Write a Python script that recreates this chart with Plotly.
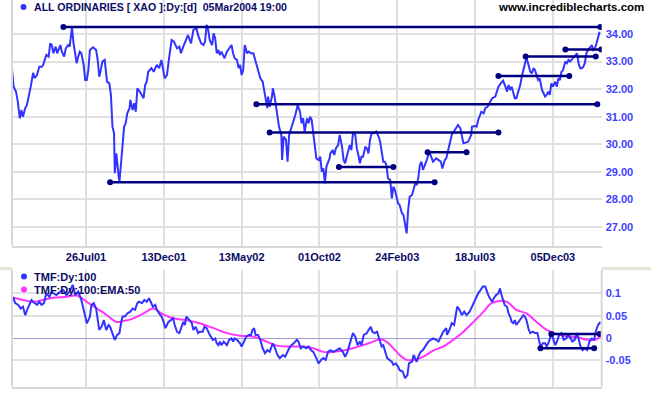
import plotly.graph_objects as go

# ---------------- data (x = trading-bar index, ticks every 100 bars) ----------------
tick_bars = [100, 200, 300, 400, 500, 600, 700]
tick_labels = ["26Jul01", "13Dec01", "13May02", "01Oct02", "24Feb03", "18Jul03", "05Dec03"]

price_ticks = [27, 28, 29, 30, 31, 32, 33, 34]
price_tick_text = ["27.00", "28.00", "29.00", "30.00", "31.00", "32.00", "33.00", "34.00"]
tmf_ticks = [-0.05, 0, 0.05, 0.1]
tmf_tick_text = ["-0.05", "0", "0.05", "0.1"]

price_bar = [5, 7, 10, 12, 15, 17, 19, 22, 24, 26, 29, 32, 34, 37, 40, 43, 45, 49, 52, 54, 56, 58, 61, 63, 67, 69,
             72, 74, 77, 79, 82, 84, 86, 88, 90, 92, 94, 97, 99, 101, 103, 105, 109, 113, 115, 117, 119, 121, 124,
             127, 130, 132, 134, 136, 137, 139, 142, 143, 145, 147, 149, 151, 153, 156, 157, 160, 162, 164, 166,
             169, 172, 174, 176, 178, 180, 184, 187, 191, 194, 197, 201, 204, 207, 210, 213, 217, 220, 222, 225,
             228, 231, 235, 238, 242, 244, 248, 251, 253, 255, 257, 259, 262, 264, 266, 268, 270, 272, 274, 278,
             281, 284, 287, 289, 291, 294, 296, 298, 300, 302, 304, 307, 309, 312, 315, 318, 321, 324, 327, 329,
             331, 333, 334, 336, 339, 340, 342, 344, 346, 348, 351, 352, 354, 357, 359, 361, 363, 366, 369, 372,
             375, 377, 379, 381, 384, 386, 388, 390, 392, 394, 396, 399, 401, 403, 405, 407, 409, 413, 414, 417,
             419, 421, 424, 426, 429, 431, 433, 435, 437, 439, 441, 443, 446, 448, 450, 452, 454, 456, 459, 461,
             463, 465, 467, 470, 473, 476, 478, 480, 482, 484, 486, 488, 491, 493, 495, 497, 499, 501, 503, 506,
             508, 510, 512, 514, 516, 519, 521, 523, 525, 527, 529, 531, 533, 536, 538, 541, 544, 546, 550, 553,
             556, 558, 561, 563, 567, 570, 574, 578, 581, 583, 585, 588, 591, 595, 596, 600, 602, 604, 606, 608,
             611, 613, 616, 619, 622, 626, 628, 630, 633, 636, 639, 641, 643, 645, 647, 649, 651, 653, 655, 658,
             660, 662, 664, 666, 668, 671, 673, 675, 677, 679, 681, 683, 686, 688, 690, 692, 694, 696, 698, 700,
             703, 705, 707, 709, 711, 713, 716, 718, 720, 722, 724, 726, 728, 731, 733, 735, 737, 739, 741, 743,
             745, 748, 750, 752, 754, 756, 758, 760]
price_val = [32.69, 32.09, 31.91, 31.61, 30.94, 31.24, 31.00, 31.32, 31.42, 31.68, 32.09, 32.59, 32.40, 32.51, 32.81,
             32.81, 32.88, 33.24, 33.18, 33.66, 33.60, 33.30, 33.54, 33.30, 33.60, 33.36, 33.18, 33.48, 33.60, 33.54,
             34.24, 33.66, 33.30, 32.94, 33.18, 33.36, 33.30, 32.88, 32.33, 32.33, 32.69, 33.42, 33.52, 33.42, 33.06,
             32.45, 32.69, 33.00, 33.06, 32.27, 32.21, 31.79, 30.64, 30.40, 28.95, 29.67, 28.82, 28.64, 29.31, 29.91,
             30.64, 30.76, 31.12, 31.31, 31.61, 31.24, 31.49, 31.18, 32.03, 31.91, 31.79, 31.67, 32.15, 32.27, 32.63,
             32.76, 32.63, 32.88, 32.76, 33.06, 32.39, 32.51, 33.18, 33.78, 33.72, 33.48, 33.54, 33.30, 33.54, 33.78,
             33.96, 33.66, 34.15, 34.21, 33.96, 33.66, 33.60, 33.72, 34.33, 34.15, 33.78, 33.60, 34.03, 33.84, 33.30,
             33.42, 33.24, 33.36, 33.12, 33.36, 33.48, 33.60, 33.30, 33.12, 33.06, 32.76, 32.88, 32.51, 32.69, 33.60,
             33.30, 33.36, 33.30, 33.30, 33.00, 32.69, 32.39, 32.27, 31.91, 31.54, 31.31, 31.73, 31.36, 31.73, 32.03,
             31.79, 31.36, 31.00, 30.64, 30.34, 29.43, 30.28, 30.16, 29.37, 30.34, 30.52, 30.76, 31.06, 31.42, 31.18,
             30.76, 30.94, 30.46, 30.94, 30.76, 31.00, 30.88, 30.40, 30.04, 29.49, 29.43, 29.55, 29.01, 29.13, 28.58,
             29.19, 29.49, 29.67, 29.79, 29.61, 29.85, 29.97, 30.34, 29.91, 29.43, 29.31, 29.55, 29.73, 29.97, 29.79,
             30.40, 30.34, 29.85, 29.61, 29.31, 29.55, 29.55, 29.91, 29.85, 29.67, 30.16, 30.40, 30.40, 30.46, 30.28,
             30.09, 29.67, 29.37, 29.37, 29.25, 28.77, 28.70, 28.04, 28.46, 28.34, 28.10, 27.86, 27.80, 27.50, 27.43,
             27.07, 26.77, 27.62, 28.10, 28.16, 28.40, 28.58, 28.52, 28.77, 29.25, 29.37, 29.07, 29.25, 29.43, 29.73,
             29.49, 29.37, 29.49, 29.43, 29.37, 29.12, 29.43, 29.49, 30.04, 30.34, 30.52, 30.70, 30.58, 30.27, 30.04,
             30.06, 30.09, 30.34, 30.64, 30.66, 30.64, 30.88, 31.00, 31.18, 31.12, 31.31, 31.36, 31.54, 31.67, 31.73,
             31.91, 32.09, 32.21, 32.31, 32.09, 31.91, 32.15, 31.97, 32.09, 31.85, 31.67, 31.67, 31.85, 32.15, 32.45,
             32.69, 32.88, 33.15, 32.94, 32.63, 32.57, 32.76, 32.69, 32.51, 32.33, 32.39, 31.97, 31.85, 31.73, 31.79,
             31.91, 31.79, 32.21, 32.09, 32.27, 32.09, 32.39, 32.33, 32.63, 32.69, 33.00, 32.94, 33.06, 33.00, 33.06,
             33.12, 33.18, 33.30, 32.94, 32.76, 32.76, 32.81, 32.94, 33.30, 33.42, 33.54, 33.60, 33.42, 33.48, 33.66,
             33.90, 34.08]

tmf_bar = [6, 9, 13, 16, 19, 22, 25, 28, 30, 32, 37, 40, 43, 46, 49, 53, 56, 58, 62, 67, 71, 75, 79, 83, 86, 90, 94,
           97, 99, 101, 103, 105, 107, 110, 113, 115, 117, 120, 123, 126, 129, 131, 134, 137, 140, 143, 145, 147, 150,
           153, 157, 160, 163, 166, 168, 172, 175, 178, 181, 184, 186, 189, 191, 194, 197, 199, 202, 204, 206, 209,
           212, 214, 217, 220, 223, 225, 227, 229, 233, 236, 238, 241, 244, 246, 250, 252, 255, 259, 263, 266, 268,
           270, 272, 274, 277, 281, 284, 287, 289, 291, 294, 298, 300, 302, 306, 309, 312, 314, 316, 318, 321, 324,
           327, 330, 333, 336, 340, 343, 346, 349, 353, 356, 359, 361, 364, 367, 371, 373, 376, 379, 383, 386, 389,
           392, 396, 399, 402, 405, 408, 411, 414, 418, 422, 426, 430, 433, 436, 439, 441, 443, 446, 449, 452, 454,
           457, 461, 463, 466, 468, 471, 474, 477, 480, 482, 484, 487, 490, 493, 495, 498, 501, 503, 507, 510, 513,
           515, 519, 521, 525, 527, 530, 533, 537, 540, 543, 546, 550, 553, 556, 559, 563, 564, 567, 570, 573, 575,
           577, 580, 583, 586, 589, 593, 596, 598, 601, 604, 607, 610, 613, 615, 617, 619, 622, 624, 627, 630, 632,
           634, 636, 638, 641, 643, 645, 647, 649, 651, 653, 656, 660, 662, 664, 666, 669, 671, 674, 677, 680, 682,
           684, 687, 690, 692, 695, 698, 700, 703, 706, 708, 711, 714, 717, 720, 723, 725, 728, 731, 733, 735, 738,
           741, 744, 747, 750, 753, 755, 758, 761]
tmf_val = [0.092, 0.078, 0.074, 0.066, 0.070, 0.051, 0.066, 0.078, 0.085, 0.081, 0.074, 0.081, 0.074, 0.078, 0.100,
           0.092, 0.104, 0.100, 0.096, 0.104, 0.107, 0.096, 0.104, 0.119, 0.096, 0.104, 0.085, 0.063, 0.044, 0.033,
           0.040, 0.048, 0.074, 0.078, 0.066, 0.040, 0.018, 0.025, 0.040, 0.018, 0.029, 0.025, 0.011, -0.004, 0.007,
           0.011, 0.033, 0.048, 0.048, 0.055, 0.059, 0.066, 0.063, 0.078, 0.081, 0.078, 0.085, 0.081, 0.089, 0.078,
           0.070, 0.074, 0.063, 0.055, 0.048, 0.040, 0.022, 0.029, 0.036, 0.040, 0.044, 0.029, 0.014, 0.011, 0.025,
           0.036, 0.029, 0.048, 0.040, 0.033, 0.018, 0.025, 0.011, 0.014, 0.014, 0.025, 0.022, 0.007, -0.004, -0.001,
           -0.012, -0.016, -0.008, -0.016, -0.008, -0.016, -0.004, -0.001, -0.008, -0.001, -0.004, -0.012, -0.019,
           -0.012, 0.003, 0.007, 0.007, 0.018, 0.022, 0.007, 0.007, -0.004, -0.023, -0.034, -0.027, -0.031, -0.012,
           -0.023, -0.038, -0.045, -0.038, -0.042, -0.031, -0.023, -0.016, -0.012, -0.004, -0.008, -0.023, -0.019,
           -0.023, -0.019, -0.027, -0.031, -0.045, -0.057, -0.049, -0.045, -0.049, -0.031, -0.027, -0.031, -0.027,
           -0.023, -0.031, -0.042, -0.031, -0.012, -0.004, 0.011, 0.003, -0.016, -0.008, -0.016, 0.007, 0.011, 0.018,
           0.025, 0.014, 0.011, 0.014, -0.004, -0.019, -0.016, -0.027, -0.045, -0.049, -0.053, -0.060, -0.057, -0.064,
           -0.072, -0.075, -0.090, -0.083, -0.057, -0.053, -0.038, -0.053, -0.042, -0.031, -0.027, -0.016, -0.008,
           -0.004, -0.001, -0.004, -0.008, 0.003, 0.014, 0.022, 0.007, 0.018, 0.033, 0.029, 0.048, 0.070, 0.063,
           0.051, 0.059, 0.051, 0.059, 0.070, 0.081, 0.089, 0.100, 0.107, 0.115, 0.115, 0.104, 0.096, 0.089, 0.081,
           0.089, 0.096, 0.100, 0.111, 0.096, 0.085, 0.074, 0.070, 0.055, 0.048, 0.036, 0.033, 0.040, 0.029, 0.036,
           0.044, 0.051, 0.048, 0.040, 0.018, 0.011, 0.014, 0.011, 0.011, -0.008, -0.019, -0.012, -0.012, -0.019,
           -0.008, 0.011, -0.001, -0.016, -0.004, 0.007, 0.011, -0.004, -0.001, 0.007, -0.001, -0.008, -0.004, 0.011,
           -0.001, -0.016, -0.027, -0.023, -0.027, -0.008, -0.001, -0.004, 0.014, 0.029, 0.036]

ema_bar = [7, 19, 32, 45, 58, 75, 88, 101, 114, 127, 139, 148, 161, 174, 186, 199, 212, 229, 246, 264, 281, 298, 315,
           332, 345, 362, 379, 392, 405, 418, 431, 443, 456, 469, 478, 486, 495, 503, 512, 521, 533, 546, 559, 572,
           585, 598, 611, 621, 632, 641, 653, 666, 679, 692, 705, 718, 731, 744, 754, 761]
ema_val = [0.090, 0.085, 0.081, 0.085, 0.090, 0.092, 0.095, 0.081, 0.066, 0.051, 0.036, 0.038, 0.044, 0.055, 0.066,
           0.053, 0.044, 0.040, 0.033, 0.022, 0.011, 0.005, 0.003, -0.008, -0.017, -0.019, -0.019, -0.023, -0.031,
           -0.031, -0.028, -0.023, -0.016, -0.008, -0.003, -0.008, -0.023, -0.038, -0.049, -0.049, -0.042, -0.028,
           -0.019, -0.004, 0.014, 0.036, 0.059, 0.078, 0.083, 0.081, 0.063, 0.055, 0.036, 0.018, 0.009, 0.004, 0.002,
           -0.004, -0.004, 0.003]

# horizontal trend lines on price panel
trend_start = [71, 131, 319, 336, 425, 539, 630, 665, 716]
trend_end = [761, 548, 757, 630, 495, 589, 721, 755, 762]
trend_level = [34.25, 28.62, 31.45, 30.43, 29.18, 29.71, 32.48, 33.18, 33.44]

# horizontal trend lines on TMF panel
tmf_trend_start = [698, 684]
tmf_trend_end = [760, 753]
tmf_trend_level = [0.009, -0.023]

# ---------------- styling ----------------
W, H = 651, 395
BLUE = "#3333ff"
NAVY = "#000080"
TEXT_NAVY = "#0b0b66"
MAGENTA = "#ff33ff"
GRID = "#e0e0e0"
FONT = "Liberation Sans"


def px(x):
    return x / W


def py(y):
    return 1 - y / H


fig = go.Figure()

fig.add_trace(go.Scatter(x=price_bar, y=price_val, mode="lines",
                         line=dict(color=BLUE, width=2), xaxis="x", yaxis="y", showlegend=False))
for s, e, lv in zip(trend_start, trend_end, trend_level):
    fig.add_trace(go.Scatter(x=[s, e], y=[lv, lv], mode="lines+markers",
                             line=dict(color=NAVY, width=2.5), marker=dict(color=NAVY, size=6),
                             xaxis="x", yaxis="y", showlegend=False))

fig.add_trace(go.Scatter(x=ema_bar, y=ema_val, mode="lines", line=dict(color=MAGENTA, width=2, shape="spline"),
                         xaxis="x2", yaxis="y2", showlegend=False))
fig.add_trace(go.Scatter(x=tmf_bar, y=tmf_val, mode="lines", line=dict(color=BLUE, width=2),
                         xaxis="x2", yaxis="y2", showlegend=False))
for s, e, lv in zip(tmf_trend_start, tmf_trend_end, tmf_trend_level):
    fig.add_trace(go.Scatter(x=[s, e], y=[lv, lv], mode="lines+markers",
                             line=dict(color=NAVY, width=2.5), marker=dict(color=NAVY, size=6),
                             xaxis="x2", yaxis="y2", showlegend=False))

xdom = [px(12), px(601.7)]
xrange = [4.9, 762.7]

fig.update_layout(
    width=W, height=H,
    margin=dict(l=0, r=0, t=0, b=0),
    paper_bgcolor="white", plot_bgcolor="white",
    hovermode=False,
    xaxis=dict(domain=xdom, range=xrange, anchor="y", tickvals=tick_bars, ticktext=tick_labels,
               showgrid=True, gridcolor=GRID, gridwidth=1.5, zeroline=False,
               showline=True, linecolor="#d8d8d8", linewidth=2, ticks="",
               tickfont=dict(family=FONT, size=11, color=TEXT_NAVY, weight="bold")),
    yaxis=dict(domain=[py(245.7), 1], range=[26.321, 35.233], side="right", anchor="x",
               tickvals=price_ticks, ticktext=price_tick_text, ticklabelstandoff=3,
               showgrid=True, gridcolor=GRID, gridwidth=1.5, zeroline=False, ticks="",
               tickfont=dict(family=FONT, size=11, color="#4040ff", weight="bold")),
    xaxis2=dict(domain=xdom, range=xrange, anchor="y2", tickvals=tick_bars, showticklabels=False,
                showgrid=True, gridcolor=GRID, gridwidth=1.5, zeroline=False,
                showline=True, linecolor="#d8d8d8", linewidth=2, ticks=""),
    yaxis2=dict(domain=[py(386.7), py(270)], range=[-0.1089, 0.1521], side="right", anchor="x2",
                tickvals=tmf_ticks, ticktext=tmf_tick_text, ticklabelstandoff=3,
                showgrid=True, gridcolor=GRID, gridwidth=1.5,
                zeroline=True, zerolinecolor="#9c9cd6", zerolinewidth=1, ticks="",
                tickfont=dict(family=FONT, size=11, color="#4040ff", weight="bold")),
    shapes=[
        # left border of price panel
        dict(type="line", xref="paper", yref="paper", x0=px(12), x1=px(12), y0=py(0), y1=py(245.7),
             line=dict(color="#d8d8d8", width=2)),
        # borders of TMF panel
        dict(type="line", xref="paper", yref="paper", x0=px(12), x1=px(12), y0=py(270), y1=py(386.7),
             line=dict(color="#d8d8d8", width=2)),
        dict(type="line", xref="paper", yref="paper", x0=px(601.7), x1=px(601.7), y0=py(270), y1=py(386.7),
             line=dict(color="#d8d8d8", width=2)),
        # splitter bars
        dict(type="rect", xref="paper", yref="paper", x0=px(0), x1=px(12), y0=py(270), y1=py(267),
             fillcolor="#e6e6d8", line=dict(width=0)),
        dict(type="rect", xref="paper", yref="paper", x0=px(601.7), x1=px(651), y0=py(270), y1=py(267),
             fillcolor="#e6e6d8", line=dict(width=0)),
        # legend dots
        dict(type="circle", xref="paper", yref="paper", x0=px(20.5), x1=px(26.5), y0=py(10), y1=py(4),
             fillcolor=BLUE, line=dict(width=0)),
        dict(type="circle", xref="paper", yref="paper", x0=px(21), x1=px(27), y0=py(279.5), y1=py(273.5),
             fillcolor=BLUE, line=dict(width=0)),
        dict(type="circle", xref="paper", yref="paper", x0=px(21), x1=px(27), y0=py(292.5), y1=py(286.5),
             fillcolor=MAGENTA, line=dict(width=0)),
    ],
    annotations=[
        dict(text="ALL ORDINARIES [ XAO ]:Dy:[d]  05Mar2004 19:00", xref="paper", yref="paper",
             x=px(32), y=py(7), xanchor="left", yanchor="middle", showarrow=False,
             font=dict(family=FONT, size=10.6, color=TEXT_NAVY, weight="bold")),
        dict(text="www.incrediblecharts.com", xref="paper", yref="paper",
             x=px(646), y=py(7), xanchor="right", yanchor="middle", showarrow=False,
             font=dict(family=FONT, size=11.5, color="black", weight="bold")),
        dict(text="TMF:Dy:100", xref="paper", yref="paper",
             x=px(32), y=py(276.5), xanchor="left", yanchor="middle", showarrow=False,
             font=dict(family=FONT, size=11, color=TEXT_NAVY, weight="bold")),
        dict(text="TMF:Dy:100:EMA:50", xref="paper", yref="paper",
             x=px(32), y=py(289.5), xanchor="left", yanchor="middle", showarrow=False,
             font=dict(family=FONT, size=11, color=TEXT_NAVY, weight="bold")),
    ],
)

fig.write_html("out.html", config={"displayModeBar": False},
               post_script="document.body.style.margin='0';")
